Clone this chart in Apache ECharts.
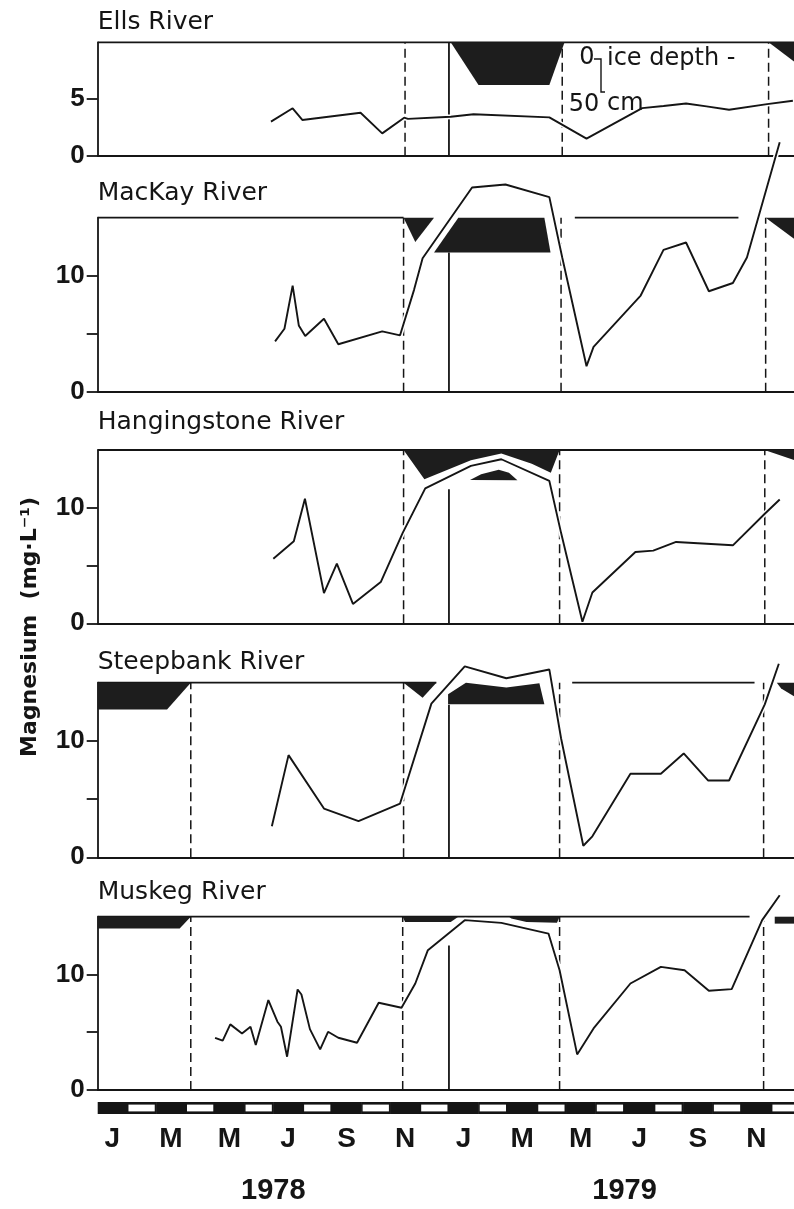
<!DOCTYPE html>
<html>
<head>
<meta charset="utf-8">
<title>Magnesium</title>
<script src="https://cdn.jsdelivr.net/npm/echarts@6/dist/echarts.min.js"></script>
<style>
  html, body { margin: 0; padding: 0; background: #fff; }
  #chart { width: 794px; height: 1209px; }
</style>
</head>
<body>
<div id="chart"></div>
<script>
// x is months counted from 1 Jan 1978 (0) to 1 Jan 1980 (24)
const monthLetters = ['J','F','M','A','M','J','J','A','S','O','N','D','J','F','M','A','M','J','J','A','S','O','N','D'];
const years = ['1978', '1979'];
const rivers = ['Ells River', 'MacKay River', 'Hangingstone River', 'Steepbank River', 'Muskeg River'];
const yMax = [10, 15, 15, 15, 15];
const yTicks = [[0, 5], [0, 5, 10], [0, 5, 10], [0, 5, 10], [0, 5, 10]];
const yLabels = [[0, 5], [0, 10], [0, 10], [0, 10], [0, 10]];

// magnesium, mg/L
const ells = [[5.92,3.0],[6.66,4.18],[6.99,3.15],[8.98,3.79],[9.72,1.97],[10.47,3.35],[10.6,3.25],[12.06,3.44],[12.84,3.65],[15.43,3.38],[16.7,1.5],[18.6,4.2],[19.33,4.38],[20.1,4.6],[20.8,4.35],[21.57,4.05],[22.87,4.55],[23.75,4.85]];
const mackay = [[6.06,4.34],[6.38,5.43],[6.66,9.14],[6.87,5.71],[7.09,4.8],[7.73,6.29],[8.22,4.09],[9.72,5.2],[10.33,4.86],[10.81,8.8],[11.1,11.5],[12.79,17.6],[13.93,17.86],[15.43,16.77],[15.87,11.57],[16.7,2.2],[16.94,3.86],[18.55,8.29],[19.33,12.23],[20.1,12.86],[20.88,8.66],[21.7,9.37],[22.18,11.57],[23.3,21.5]];
const hangingstone = [[6.0,5.59],[6.7,7.1],[7.08,10.78],[7.73,2.61],[8.17,5.16],[8.72,1.68],[9.67,3.57],[10.42,7.83],[11.19,11.68],[12.75,13.62],[13.79,14.2],[15.43,12.32],[15.83,7.83],[16.56,0.14],[16.9,2.67],[18.37,6.17],[18.98,6.29],[19.76,7.04],[21.7,6.75],[22.79,9.48],[23.3,10.72]];
const steepbank = [[5.95,2.67],[6.52,8.78],[7.73,4.19],[8.91,3.11],[10.33,4.62],[11.4,13.2],[12.54,16.4],[13.96,15.38],[15.43,16.13],[15.83,10.23],[16.59,0.99],[16.9,1.8],[18.2,7.18],[19.24,7.18],[20.02,8.92],[20.85,6.6],[21.57,6.6],[22.79,13.14],[23.27,16.63]];
const muskeg = [[4.01,4.52],[4.27,4.27],[4.53,5.68],[4.93,4.9],[5.22,5.48],[5.4,3.89],[5.83,7.78],[6.14,5.91],[6.26,5.48],[6.47,2.88],[6.83,8.7],[6.96,8.27],[7.25,5.27],[7.6,3.52],[7.87,5.04],[8.22,4.52],[8.86,4.09],[9.6,7.55],[10.38,7.12],[10.85,9.22],[11.28,12.1],[12.54,14.7],[13.79,14.47],[15.4,13.54],[15.78,10.37],[16.38,3.08],[16.94,5.33],[18.2,9.22],[19.24,10.66],[20.05,10.37],[20.88,8.59],[21.66,8.73],[22.7,14.7],[23.3,16.86]];

// ice cover, hanging from the top of each panel (in panel units)
const ellsIce = [[[12.06,10],[15.95,10],[15.43,6.24],[13.01,6.24]], [[22.92,10],[24,10],[24,7.9]]];
const mackayIce = [[[10.45,15],[11.49,15],[10.85,12.9]], [[12.32,15],[15.26,15],[15.47,12.0],[11.49,12.0]], [[22.82,15],[24,15],[24,12.8]]];
const hangingstoneIce = [[[10.45,15],[15.78,15],[15.48,13.04],[14.83,13.8],[13.79,14.7],[12.75,14.12],[11.16,12.46]], [[12.72,12.4],[13.1,12.9],[13.7,13.28],[14.05,13.04],[14.34,12.38]], [[22.78,15],[24,15],[24,13.95]]];
const steepbankIce = [[[0,15],[3.18,15],[2.37,12.7],[0,12.7]], [[10.45,15],[11.57,15],[11.1,13.7]], [[11.97,13.14],[11.97,14.01],[12.58,15],[13.96,14.59],[15.09,14.95],[15.26,13.14]], [[23.2,15],[24,15],[24,13.5],[23.35,14.5]]];
const muskegIce = [[[0,15],[3.18,15],[2.8,13.98],[0,13.98]], [[10.42,15],[12.32,15],[12.06,14.55],[10.5,14.55]], [[14.05,15],[15.78,15],[15.69,14.47],[14.65,14.55],[14.13,14.84]], [[23.13,15],[24,15],[24,14.4],[23.13,14.4]]];

// freeze-up / break-up dates (dashed), open top line stretches, height of the 1 Jan 1979 line
const dashedAt = [[10.5,15.87,22.92], [10.45,15.83,22.82], [10.45,15.78,22.79], [3.18,10.45,15.78,22.75], [3.18,10.42,15.78,22.75]];
const topLine = [[[0,24]], [[0,10.45],[16.3,21.89]], [[0,24]], [[0,11.57],[16.21,22.44]], [[0,22.27]]];
const yearLineTop = [10, 12.0, 11.6, 13.1, 12.5];

const series_data = [ells, mackay, hangingstone, steepbank, muskeg];
const ice_data = [ellsIce, mackayIce, hangingstoneIce, steepbankIce, muskegIce];

const gridTop = [42.3, 217.7, 450, 682.7, 916.7];
const gridHeight = [113.4, 174, 173.3, 174.6, 173.3];
const titleY = [24, 195, 424, 664, 894];

const ink = '#151515';
const LEFT = 97.7, WIDTH = 702.5;
const numFont = "'Liberation Sans', Arial, sans-serif";

const chart = echarts.init(document.getElementById('chart'));

const grids = [], xAxes = [], yAxes = [], series = [], graphics = [];

rivers.forEach((name, i) => {
  grids.push({ left: LEFT, width: WIDTH, top: gridTop[i], height: gridHeight[i], containLabel: false, outerBoundsMode: 'none' });
  xAxes.push({
    type: 'value', gridIndex: i, min: 0, max: 24,
    axisLine: { show: true, onZero: false, lineStyle: { color: ink, width: 1.8 } },
    axisTick: { show: false }, axisLabel: { show: false }, splitLine: { show: false }
  });
  yAxes.push({
    type: 'value', gridIndex: i, min: 0, max: yMax[i], interval: 5,
    axisLine: { show: true, lineStyle: { color: ink, width: 1.8 } },
    axisTick: { show: true, length: 11, customValues: yTicks[i], lineStyle: { color: ink, width: 1.8 } },
    axisLabel: { customValues: yLabels[i], margin: 13, color: ink, fontFamily: numFont, fontWeight: 'bold', fontSize: 26 },
    splitLine: { show: false }
  });

  const segs = [];
  topLine[i].forEach(s => segs.push([s[0], yMax[i], s[1], yMax[i], 0]));
  dashedAt[i].forEach(m => segs.push([m, 0, m, yMax[i], 1]));
  segs.push([12, 0, 12, yearLineTop[i], 0]);
  series.push({
    type: 'custom', xAxisIndex: i, yAxisIndex: i, z: 1, silent: true,
    encode: { x: [0, 2], y: [1, 3] },
    data: segs,
    renderItem(params, api) {
      const a = api.coord([api.value(0), api.value(1)]);
      const b = api.coord([api.value(2), api.value(3)]);
      const dashed = api.value(4) === 1;
      return {
        type: 'line',
        shape: { x1: a[0], y1: a[1], x2: b[0], y2: b[1] },
        style: { stroke: ink, lineWidth: dashed ? 1.5 : 1.8, lineDash: dashed ? [9, 5] : null }
      };
    }
  });

  const polys = ice_data[i];
  series.push({
    type: 'custom', xAxisIndex: i, yAxisIndex: i, z: 2, silent: true,
    data: polys.map((p, k) => [p[0][0], p[0][1], k]),
    renderItem(params, api) {
      const poly = polys[api.value(2)];
      return { type: 'polygon', shape: { points: poly.map(pt => api.coord(pt)) }, style: { fill: '#1d1d1d' } };
    }
  });

  series.push({
    type: 'line', xAxisIndex: i, yAxisIndex: i, z: 3, silent: true, clip: false,
    showSymbol: false, data: series_data[i],
    lineStyle: { color: '#fff', width: 5 }
  });
  series.push({
    type: 'line', xAxisIndex: i, yAxisIndex: i, z: 4, silent: true, clip: false,
    showSymbol: false, data: series_data[i],
    lineStyle: { color: ink, width: 1.9 }
  });

  graphics.push({
    type: 'text', left: LEFT, top: titleY[i] - 14, z: 100,
    style: { text: name, fill: ink, font: "25px 'DejaVu Sans', sans-serif" }
  });
});

// month bar + month letters + years
grids.push({ left: LEFT, width: WIDTH, top: 1102, height: 12, containLabel: false, outerBoundsMode: 'none' });
xAxes.push({
  type: 'category', gridIndex: 5, data: monthLetters, boundaryGap: true,
  axisLine: { show: false }, axisTick: { show: false },
  axisLabel: { interval: 1, margin: 11, color: ink, fontFamily: "'Liberation Sans', Arial, sans-serif", fontWeight: 'bold', fontSize: 28 }
});
xAxes.push({
  type: 'category', gridIndex: 5, data: years, boundaryGap: true, position: 'bottom',
  axisLine: { show: false }, axisTick: { show: false },
  axisLabel: { margin: 62, color: ink, fontFamily: numFont, fontWeight: 'bold', fontSize: 29 }
});
yAxes.push({ type: 'value', gridIndex: 5, min: 0, max: 1, show: false });
series.push({
  type: 'custom', xAxisIndex: 5, yAxisIndex: 5, silent: true,
  encode: { x: 0, y: 1 },
  data: monthLetters.map((m, k) => [k, 1]),
  renderItem(params, api) {
    const k = api.value(0);
    const bot = api.coord([k, 0]);
    const top = api.coord([k, 1]);
    const w = api.size([1, 0])[0];
    const h = bot[1] - top[1];
    const children = [{ type: 'rect', shape: { x: bot[0] - w / 2, y: top[1], width: w + 0.5, height: h }, style: { fill: ink } }];
    if (k % 2 === 1) {
      children.push({ type: 'rect', shape: { x: bot[0] - w / 2 + 1.5, y: top[1] + 2.6, width: w - 3, height: h - 5.2 }, style: { fill: '#fff' } });
    }
    return { type: 'group', children };
  }
});

// y-axis name
graphics.push({
  type: 'text', x: 30, y: 627, rotation: Math.PI / 2, z: 100,
  style: { text: 'Magnesium  (mg·L⁻¹)', fill: ink, font: "bold 22px 'DejaVu Sans', sans-serif", align: 'center', verticalAlign: 'middle' }
});

// ice depth key in the Ells panel
graphics.push(
  { type: 'text', x: 587, y: 58, z: 100, style: { text: '0', fill: ink, font: "24px 'DejaVu Sans', sans-serif", align: 'center', verticalAlign: 'middle' } },
  { type: 'text', x: 607, y: 59, z: 100, style: { text: 'ice depth -', fill: ink, font: "24px 'DejaVu Sans', sans-serif", align: 'left', verticalAlign: 'middle' } },
  { type: 'text', x: 584, y: 105, z: 100, style: { text: '50', fill: ink, font: "24px 'DejaVu Sans', sans-serif", align: 'center', verticalAlign: 'middle' } },
  { type: 'text', x: 607, y: 104, z: 100, style: { text: 'cm', fill: ink, font: "24px 'DejaVu Sans', sans-serif", align: 'left', verticalAlign: 'middle' } },
  { type: 'polyline', z: 100, shape: { points: [[594, 59], [601, 59], [601, 92], [605, 92]] }, style: { stroke: ink, lineWidth: 1.4, fill: null } }
);

chart.setOption({
  animation: false,
  backgroundColor: '#fff',
  grid: grids,
  xAxis: xAxes,
  yAxis: yAxes,
  series: series,
  graphic: graphics
});
</script>
</body>
</html>
